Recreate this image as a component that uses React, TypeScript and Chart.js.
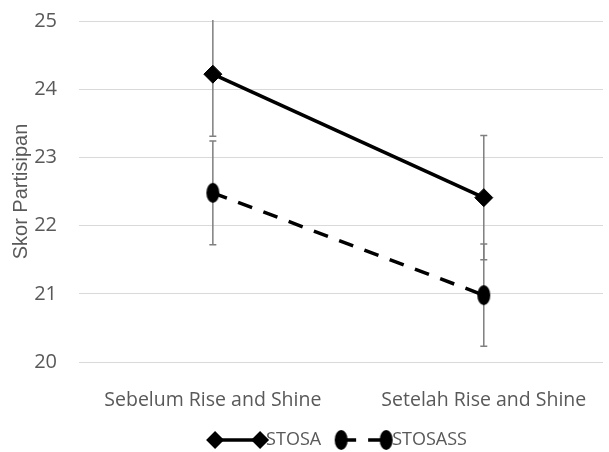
import React, { useEffect, useRef } from "react";
import { Chart, registerables } from "chart.js";

Chart.register(...registerables);

// ---- data ----
const categories = ["Sebelum Rise and Shine", "Setelah Rise and Shine"];
const seriesNames = ["STOSA", "STOSASS"];
const stosa = [24.22, 22.41];
const stosaErr = [0.91, 0.91];
const stosass = [22.48, 20.98];
const stosassErr = [0.76, 0.75];
const yTicks = [20, 21, 22, 23, 24, 25];
const yTitle = "Skor Partisipan";

const FONT = "'Open Sans', sans-serif";
const TITLE_FONT = "'Liberation Sans', Arial, sans-serif";
const TEXT = "#595959";

function makeEllipse(rx: number, ry: number) {
  const c = document.createElement("canvas");
  c.width = Math.ceil(rx * 2) + 2;
  c.height = Math.ceil(ry * 2) + 2;
  const ctx = c.getContext("2d")!;
  ctx.fillStyle = "#000";
  ctx.beginPath();
  ctx.ellipse(c.width / 2, c.height / 2, rx, ry, 0, 0, Math.PI * 2);
  ctx.fill();
  return c;
}

const errorsBySeries = [stosaErr, stosassErr];

const errorBarPlugin = {
  id: "errorBars",
  beforeDatasetsDraw(chart: any) {
    const { ctx, chartArea, scales } = chart;
    ctx.save();
    ctx.beginPath();
    ctx.rect(chartArea.left, chartArea.top - 1, chartArea.right - chartArea.left, chartArea.bottom - chartArea.top + 2);
    ctx.clip();
    ctx.strokeStyle = "#7f7f7f";
    ctx.lineWidth = 1.5;
    chart.data.datasets.forEach((ds: any, di: number) => {
      const errs = errorsBySeries[di];
      ds.data.forEach((pt: any, i: number) => {
        const x = scales.x.getPixelForValue(pt.x);
        const yTop = scales.y.getPixelForValue(pt.y + errs[i]);
        const yBot = scales.y.getPixelForValue(pt.y - errs[i]);
        ctx.beginPath();
        ctx.moveTo(x, yTop);
        ctx.lineTo(x, yBot);
        ctx.moveTo(x - 3.5, yTop);
        ctx.lineTo(x + 3.5, yTop);
        ctx.moveTo(x - 3.5, yBot);
        ctx.lineTo(x + 3.5, yBot);
        ctx.stroke();
      });
    });
    ctx.restore();
  },
};

const legendPlugin = {
  id: "customLegend",
  afterDraw(chart: any) {
    const ctx = chart.ctx;
    const ds = chart.data.datasets;
    ctx.save();
    ctx.font = `18px ${FONT}`;
    ctx.textBaseline = "middle";
    const sample = 45;
    const gapText = 6;
    const gapItem = 20;
    const widths = ds.map((d: any) => ctx.measureText(d.label).width);
    let total = 0;
    widths.forEach((w: number, i: number) => {
      total += 9 + sample + gapText + w + (i < widths.length - 1 ? gapItem - 9 : 0);
    });
    const cy = 440;
    let x = chart.width / 2 + 32 - total / 2;
    ds.forEach((d: any, i: number) => {
      const m1 = x + 9;
      const m2 = m1 + sample;
      ctx.strokeStyle = "#000";
      ctx.lineWidth = d.borderWidth;
      ctx.setLineDash(d.borderDash || []);
      ctx.beginPath();
      ctx.moveTo(m1, cy);
      ctx.lineTo(m2, cy);
      ctx.stroke();
      ctx.setLineDash([]);
      [m1, m2].forEach((mx) => {
        if (d.pointStyle === "rectRot") {
          const r = d.pointRadius;
          ctx.fillStyle = "#000";
          ctx.beginPath();
          ctx.moveTo(mx, cy - r);
          ctx.lineTo(mx + r, cy);
          ctx.lineTo(mx, cy + r);
          ctx.lineTo(mx - r, cy);
          ctx.closePath();
          ctx.fill();
        } else {
          const img = d.pointStyle;
          ctx.drawImage(img, mx - img.width / 2, cy - img.height / 2);
        }
      });
      ctx.fillStyle = TEXT;
      const tx = m2 + gapText;
      ctx.fillText(d.label, tx, cy);
      x = tx + widths[i] + gapItem - 9;
    });
    ctx.restore();
  },
};

function zeroPad(s: any) {
  s.paddingTop = 0;
  s.paddingBottom = 0;
  s.paddingLeft = 0;
  s.paddingRight = 0;
}

export default function App() {
  const ref = useRef<HTMLCanvasElement | null>(null);

  useEffect(() => {
    document.body.style.margin = "0";
    const ellipse = makeEllipse(6.5, 10);
    const chart = new Chart(ref.current!, {
      type: "line",
      data: {
        datasets: [
          {
            label: seriesNames[0],
            data: stosa.map((v, i) => ({ x: i, y: v })),
            borderColor: "#000",
            backgroundColor: "#000",
            borderWidth: 3.5,
            pointStyle: "rectRot",
            pointRadius: 9,
            pointBackgroundColor: "#000",
            pointBorderColor: "#000",
            pointBorderWidth: 1,
            fill: false,
            tension: 0,
          },
          {
            label: seriesNames[1],
            data: stosass.map((v, i) => ({ x: i, y: v })),
            borderColor: "#000",
            backgroundColor: "#000",
            borderWidth: 3.5,
            borderDash: [15, 12],
            pointStyle: ellipse as any,
            pointRadius: 9,
            fill: false,
            tension: 0,
          },
        ],
      },
      options: {
        responsive: false,
        animation: false,
        devicePixelRatio: 1,
        layout: { autoPadding: false, padding: { top: 21, right: 6, left: 0, bottom: 0 } },
        plugins: { legend: { display: false }, tooltip: { enabled: false } },
        scales: {
          x: {
            type: "linear",
            min: -0.494,
            max: 1.44,
            afterBuildTicks: (s: any) => {
              s.ticks = categories.map((_, i) => ({ value: i }));
            },
            afterFit: (s: any) => {
              s.height = 90;
              zeroPad(s);
            },
            grid: { display: false },
            border: { display: false },
            ticks: {
              padding: 19,
              color: TEXT,
              font: { family: FONT, size: 19.5 },
              maxRotation: 0,
              autoSkip: false,
              callback: (v: any) => categories[v] ?? "",
            },
          },
          y: {
            type: "linear",
            min: 20,
            max: 25,
            afterBuildTicks: (s: any) => {
              s.ticks = yTicks.map((v) => ({ value: v }));
            },
            afterFit: (s: any) => {
              s.width = 79;
              zeroPad(s);
            },
            grid: { color: "#d9d9d9", lineWidth: 1, drawTicks: false },
            border: { display: false },
            ticks: { padding: 22, color: TEXT, font: { family: FONT, size: 20 } },
            title: {
              display: true,
              text: yTitle,
              color: TEXT,
              font: { family: TITLE_FONT, size: 20 },
              padding: { top: 9, bottom: 0 },
            },
          },
        },
      },
      plugins: [errorBarPlugin, legendPlugin],
    });
    return () => chart.destroy();
  }, []);

  return (
    <div style={{ width: 609, height: 452 }}>
      <canvas ref={ref} width={609} height={452} />
    </div>
  );
}
